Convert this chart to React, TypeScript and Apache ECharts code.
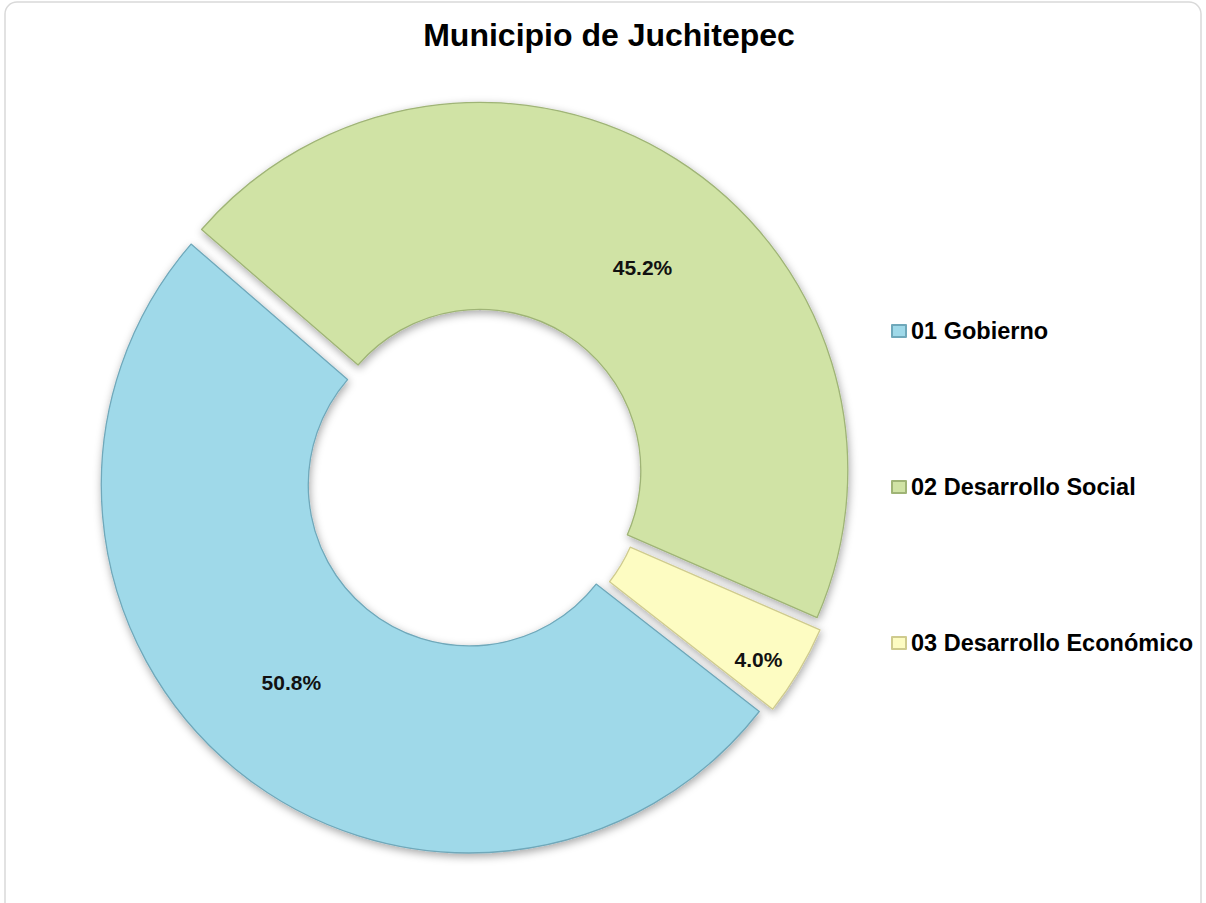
import React, { useEffect, useRef } from "react";
import * as echarts from "echarts";

const TITLE = "Municipio de Juchitepec";
const categories = ["01 Gobierno", "02 Desarrollo Social", "03 Desarrollo Económico"];
const shares = [50.8, 45.2, 4.0];

const fills = ["#9fd9e9", "#d0e3a5", "#fdfcc2"];
const borders = ["#6fa8ba", "#9fb476", "#cfcb8e"];
// label nudges (dx, dy) relative to the library's inside position
const labelNudges: [number, number][] = [
  [-8, -9],
  [20, 23],
  [46, 40],
];

export default function App() {
  const ref = useRef<HTMLDivElement>(null);
  useEffect(() => {
    if (!ref.current) return;
    const chart = echarts.init(ref.current, null, { renderer: "svg" });
    const font = "'Liberation Sans', Arial, sans-serif";
    chart.setOption({
      animation: false,
      backgroundColor: "#ffffff",
      title: {
        text: TITLE,
        left: 604,
        textAlign: "center",
        top: 14,
        textStyle: { fontFamily: font, fontSize: 32, fontWeight: "bold", color: "#000" },
      },
      legend: {
        orient: "vertical",
        left: 886,
        top: 313,
        icon: "rect",
        itemWidth: 14,
        itemHeight: 12,
        itemGap: 130,
        selectedMode: false,
        textStyle: { fontFamily: font, fontSize: 23.5, fontWeight: "bold", color: "#000", lineHeight: 26 },
        data: categories,
      },
      graphic: [
        {
          type: "rect",
          shape: { x: 5, y: 2, width: 1196, height: 940, r: 12 },
          style: { fill: "none", stroke: "#d9d9d9", lineWidth: 1.5 },
          silent: true,
        },
      ],
      series: [
        {
          type: "pie",
          center: [475, 478],
          radius: [161, 368],
          startAngle: -38,
          clockwise: true,
          selectedMode: "multiple",
          selectedOffset: 9,
          avoidLabelOverlap: false,
          emphasis: { disabled: true },
          label: {
            show: true,
            position: "inside",
            fontFamily: font,
            fontSize: 21,
            fontWeight: "bold",
            color: "#111",
            formatter: (p: any) => Number(p.value).toFixed(1) + "%",
          },
          labelLine: { show: false },
          labelLayout: (p: any) => ({ dx: labelNudges[p.dataIndex][0], dy: labelNudges[p.dataIndex][1] }),
          data: categories.map((name, i) => ({
            name,
            value: shares[i],
            selected: true,
            itemStyle: {
              color: fills[i],
              borderColor: borders[i],
              borderWidth: 1.3,
              shadowBlur: 8,
              shadowOffsetX: 1,
              shadowOffsetY: 3,
              shadowColor: "rgba(0,0,0,0.35)",
            },
            select: {
              itemStyle: {
                color: fills[i],
                borderColor: borders[i],
                borderWidth: 1.3,
                shadowBlur: 8,
                shadowOffsetX: 1,
                shadowOffsetY: 3,
                shadowColor: "rgba(0,0,0,0.35)",
              },
            },
          })),
        },
      ],
    });
    return () => chart.dispose();
  }, []);
  return (
    <div
      ref={ref}
      style={{ position: "absolute", left: 0, top: 0, width: 1206, height: 903 }}
    />
  );
}
